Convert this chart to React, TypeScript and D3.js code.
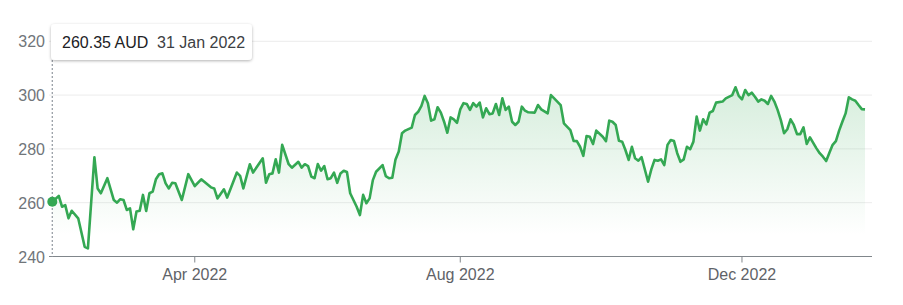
import React from "react";
import * as d3 from "d3";

// Trading-day index (0 = 31 Jan 2022, ASX trading days) and closing price in AUD
const tradingDay = [
  0, 2, 3, 4, 5, 6, 8, 10, 11, 13, 14, 15, 17, 19, 20, 21, 22, 23, 24, 25, 26, 27, 28, 29, 30, 31, 32, 33, 34, 35, 36, 37, 38,
  40, 42, 44, 46, 49, 50, 51, 53, 54, 55, 57, 58, 59, 61, 62, 65, 66, 67, 68, 69, 70, 71, 73, 74, 76, 77, 78, 79, 80, 81, 82,
  83, 84, 85, 86, 87, 88, 89, 90, 91, 92, 94, 95, 96, 97, 98, 99, 100, 102, 103, 104, 105, 106, 107, 108, 109, 111, 112, 113,
  114, 115, 116, 117, 118, 119, 120, 121, 122, 123, 124, 125, 126, 127, 128, 129, 130, 131, 132, 133, 134, 135, 136, 137, 138,
  139, 140, 141, 142, 143, 144, 145, 146, 147, 149, 150, 151, 153, 154, 155, 157, 158, 160, 161, 162, 163, 164, 165, 166, 167,
  168, 170, 171, 172, 173, 174, 175, 176, 177, 178, 179, 180, 181, 182, 184, 185, 186, 187, 188, 189, 190, 191, 192, 193, 194,
  195, 196, 197, 198, 199, 200, 201, 202, 203, 204, 205, 207, 208, 210, 211, 212, 213, 214, 215, 216, 217, 218, 219, 220, 221,
  222, 223, 224, 225, 226, 227, 228, 229, 230, 231, 232, 233, 234, 236, 237, 238, 239, 240, 241, 242, 243, 244, 245, 246, 247,
  248, 249, 250, 251,
];
const close = [
  260.35, 262.5, 258.5, 259.1, 254.2, 257.0, 254.2, 243.6, 243.0, 276.9, 265.3, 263.5, 269.1, 261.0, 260.0, 261.3, 261.0, 257.3,
  257.9, 250.1, 256.7, 257.0, 262.9, 256.9, 263.5, 264.1, 268.7, 270.6, 270.9, 267.2, 265.3, 267.4, 267.2,
  261.0, 270.6, 266.2, 268.7, 265.7, 265.3, 261.6, 265.0, 261.9, 265.0, 271.2, 270.0, 265.3, 274.3, 271.2, 276.5, 267.4, 270.6,
  270.9, 276.1, 271.2, 281.5, 274.3, 273.0, 275.2, 273.0, 274.3, 273.6, 269.7, 269.1, 274.4,
  271.9, 273.6, 268.7, 269.1, 271.2, 267.4, 270.9, 271.9, 271.4, 263.5, 258.5, 255.4, 262.9, 259.8, 261.6, 268.4, 271.5, 274.0,
  269.9, 269.1, 269.3, 276.1, 279.0, 285.8, 286.8, 287.9, 292.6, 293.8,
  296.0, 299.7, 297.0, 290.5, 291.0, 295.5, 293.5, 290.1, 286.0, 291.7, 291.0, 289.7, 294.7, 297.0, 296.7, 294.5, 297.0, 295.7,
  297.2, 291.7, 295.1, 292.9, 293.2, 296.7, 292.6,
  298.8, 294.5, 295.7, 290.1, 288.9, 290.1, 295.7, 294.2, 293.6, 293.5, 296.3, 294.7, 293.2, 300.0, 298.8, 296.3, 289.5, 287.0,
  283.0, 282.9, 280.8, 277.4, 284.8, 284.5, 281.8,
  286.8, 284.5, 282.9, 290.5, 290.1, 288.9, 283.0, 282.7, 279.6, 275.9, 280.8, 276.5, 275.6, 276.9, 267.8, 272.4, 275.9, 275.6,
  276.1, 274.0, 281.5, 283.3, 282.9, 278.4, 275.2,
  276.1, 280.8, 279.9, 282.7, 292.0, 286.8, 291.0, 289.1, 293.5, 294.1, 297.2, 297.6, 298.8, 300.0, 302.9, 299.7, 298.4, 301.9,
  300.0, 300.9, 299.4, 297.6, 298.4, 297.9, 296.7,
  299.7, 297.6, 294.5, 290.7, 285.8, 287.3, 291.0, 288.9, 285.5, 285.5, 288.0, 281.8, 284.3, 280.2, 278.4, 277.1, 275.5, 278.6,
  281.5, 282.9, 286.8, 290.1, 293.2, 299.2, 298.4,
  297.9, 296.3, 294.8, 294.7,
];

const yTicks = [240, 260, 280, 300, 320];
const xTickDays = [44, 126, 213];
const xTickLabels = ["Apr 2022", "Aug 2022", "Dec 2022"];
const currency = "AUD";
const firstDateLabel = "31 Jan 2022";
const totalDays = 253;

const W = 903;
const H = 305;
const FONT = "Arial, 'Liberation Sans', Helvetica, sans-serif";

export default function App() {
  const x = d3.scaleLinear().domain([0, totalDays]).range([52.3, 871.5]);
  const y = d3.scaleLinear().domain([240, 320]).range([256.5, 41.3]);
  const pts = tradingDay.map((d, i) => [d, close[i]] as [number, number]);

  const line = d3
    .line<[number, number]>()
    .x((d) => x(d[0]))
    .y((d) => y(d[1]));
  const area = d3
    .area<[number, number]>()
    .x((d) => x(d[0]))
    .y0(y(240))
    .y1((d) => y(d[1]));

  const gridX0 = 49;
  const gridX1 = 872;
  const x0 = x(tradingDay[0]);
  const y0 = y(close[0]);

  return (
    <svg
      width={W}
      height={H}
      style={{ position: "absolute", left: 0, top: 0, background: "#fff" }}
      fontFamily={FONT}
    >
      <defs>
        <linearGradient id="fillGrad" gradientUnits="userSpaceOnUse" x1="0" y1={y(303)} x2="0" y2={y(248)}>
          <stop offset="0" stopColor="#34a853" stopOpacity={0.2} />
          <stop offset="1" stopColor="#34a853" stopOpacity={0} />
        </linearGradient>
        <filter id="shadow" x="-10%" y="-30%" width="120%" height="170%">
          <feDropShadow dx="0" dy="1" stdDeviation="1.6" floodColor="#000" floodOpacity="0.3" />
        </filter>
      </defs>

      {/* grid lines */}
      {yTicks
        .filter((t) => t !== 240)
        .map((t) => (
          <line key={t} x1={gridX0} x2={gridX1} y1={y(t)} y2={y(t)} stroke="#ececec" strokeWidth={1} />
        ))}

      {/* y labels */}
      {yTicks.map((t) => (
        <text key={t} x={45} y={y(t) + 6} textAnchor="end" fontSize={16} fill="#70757a">
          {t}
        </text>
      ))}

      {/* area + line */}
      <path d={area(pts) || ""} fill="url(#fillGrad)" />
      <path d={line(pts) || ""} fill="none" stroke="#34a853" strokeWidth={2.6} strokeLinejoin="round" />

      {/* x axis */}
      <line x1={gridX0} x2={gridX1} y1={y(240)} y2={y(240)} stroke="#80868b" strokeWidth={1} />
      {xTickDays.map((d, i) => (
        <g key={d}>
          <line x1={x(d)} x2={x(d)} y1={y(240)} y2={y(240) + 6} stroke="#80868b" strokeWidth={1} />
          <text x={x(d)} y={280} textAnchor="middle" fontSize={16} fill="#5f6368">
            {xTickLabels[i]}
          </text>
        </g>
      ))}

      {/* hover marker */}
      <line x1={x0} x2={x0} y1={60} y2={y(240)} stroke="#9aa0a6" strokeWidth={1.3} strokeDasharray="2,2" />
      <circle cx={x0} cy={y0} r={5} fill="#34a853" />

      {/* tooltip */}
      <rect x={51} y={24} width={201} height={36} rx={4} fill="#fff" filter="url(#shadow)" />
      <text x={62} y={47.5} fontSize={16} fill="#202124">
        {close[0].toFixed(2)} {currency}
      </text>
      <text x={157} y={47.5} fontSize={16} fill="#3c4043">
        {firstDateLabel}
      </text>
    </svg>
  );
}
